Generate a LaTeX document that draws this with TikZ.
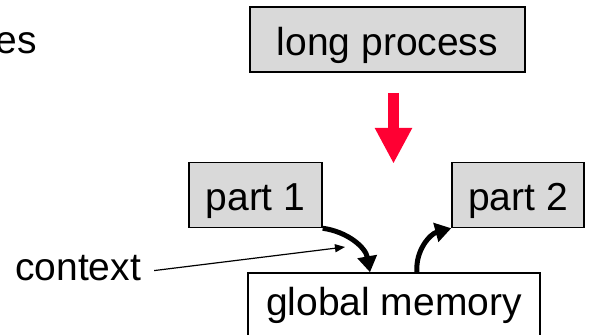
\documentclass[tikz,border=0pt]{standalone}
\usepackage{fontspec}
\setmainfont{Liberation Sans}
\usetikzlibrary{arrows.meta}
\definecolor{boxgray}{RGB}{217,217,217}
\definecolor{alertred}{RGB}{255,0,51}

\begin{document}
\begin{tikzpicture}[x=1pt,y=-1pt,
    txt/.style={font=\fontsize{39}{46}\selectfont, inner sep=0pt},
    greybox/.style={txt, draw=black, fill=boxgray, line width=1.5pt, text height=48pt, text depth=17pt},
    whitebox/.style={txt, draw=black, fill=white, line width=1.5pt, text height=42pt, text depth=24pt},
    flow/.style={line width=5pt, -{Triangle[length=16pt,width=19pt]}}]
    \useasboundingbox (0,0) rectangle (590,335);
    \clip (0,0) rectangle (590,335);

    \node [txt, anchor=base east] (es) at (37,53) {es};
    \node [greybox, minimum width=275pt] (lp) at (387.5,39.5) {long process};
    \node [greybox, minimum width=133pt] (p1) at (255.5,195) {part 1};
    \node [greybox, minimum width=132pt] (p2) at (518,195) {part 2};
    \node [whitebox, minimum width=292pt] (mem) at (394,306) {global memory};
    \node [txt, anchor=base west] (ctx) at (15,280) {context};
    \coordinate (ctxend) at (345,247);

    % split arrow
    \draw [alertred, line width=11pt, -{Triangle[length=36pt,width=35pt]}]
        ([xshift=6pt,yshift=-20pt]lp.south) -- ([xshift=6pt,yshift=-91pt]lp.south);

    \draw [flow] (p1.south east) to[out=-8,in=100] ([xshift=-24pt]mem.north);
    \draw [flow] ([xshift=23pt]mem.north) to[out=95,in=195] (p2.south west);
    \draw [line width=1.2pt, -{Triangle[length=10pt,width=8pt]}] ([xshift=13pt,yshift=-3pt]ctx.east) -- (ctxend);
\end{tikzpicture}
\end{document}
